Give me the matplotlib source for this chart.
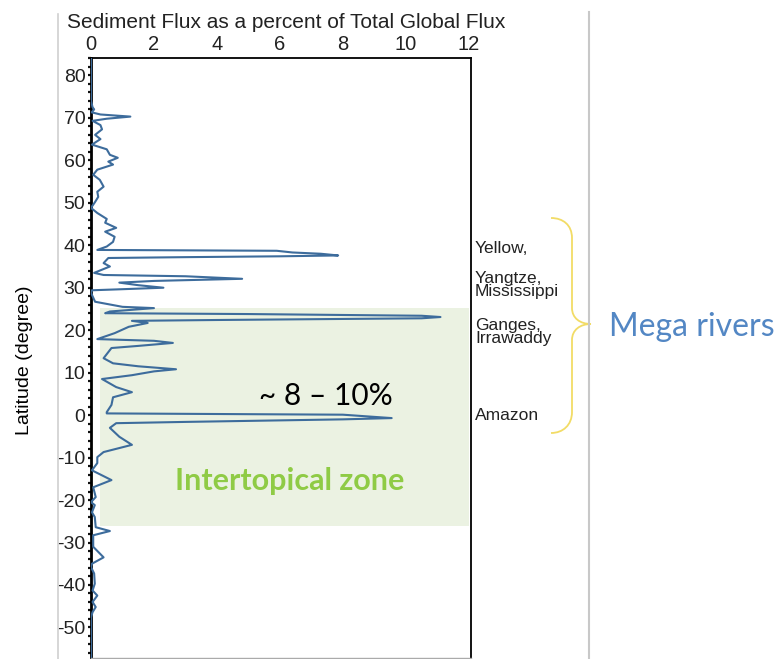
import matplotlib
matplotlib.use("Agg")
import matplotlib.pyplot as plt
from matplotlib.path import Path
from matplotlib.patches import PathPatch, Rectangle
from matplotlib.lines import Line2D
from matplotlib.ticker import MultipleLocator

# ---------------- data ----------------
latitude = [84.0, 74.0, 72.5, 72.0, 71.3, 70.8, 70.3, 69.8, 69.3, 68.3, 67.3, 66.0,
            65.0, 63.7, 62.6, 61.3, 60.6, 59.7, 59.0, 57.8, 56.6, 55.4, 53.8, 52.6,
            51.4, 50.2, 48.8, 47.6, 46.2, 45.3, 44.1, 43.2, 42.0, 40.8, 39.7, 38.9,
            38.7, 38.3, 38.0, 37.6, 37.4, 37.2, 37.0, 35.8, 35.0, 33.5, 33.0, 32.7,
            32.1, 31.6, 31.2, 30.6, 30.0, 29.6, 29.4, 28.8, 26.7, 25.5, 25.2, 24.4,
            24.0, 23.8, 23.4, 23.1, 22.8, 22.4, 22.2, 21.7, 20.8, 19.3, 17.9, 17.5,
            17.0, 16.3, 15.8, 13.4, 12.2, 11.5, 10.8, 10.3, 9.4, 8.5, 6.6, 5.4, 4.2,
            2.4, 0.7, 0.4, 0.3, 0.1, -0.7, -1.0, -1.6, -1.9, -3.0, -5.1, -7.0, -8.7,
            -9.9, -11.3, -13.0, -15.3, -17.0, -19.3, -20.5, -21.2, -22.9, -24.0,
            -26.4, -27.3, -28.3, -31.0, -33.5, -35.0, -35.8, -37.3, -39.7, -41.3,
            -42.5, -44.0, -45.2, -46.4, -47.6, -57.5]
flux = [0.0, 0.0, 0.05, 0.1, 0.02, 0.3, 1.25, 0.5, 0.05, 0.3, 0.35, 0.13,
        0.3, 0.03, 0.5, 0.6, 0.85, 0.55, 0.7, 0.2, 0.07, 0.28, 0.4, 0.2,
        0.23, 0.13, 0.0, 0.2, 0.5, 0.45, 0.8, 0.45, 0.75, 0.7, 0.5, 0.2,
        5.9, 6.4, 7.3, 7.85, 6.0, 3.0, 0.55, 0.4, 0.6, 0.1, 0.4, 3.0,
        4.8, 2.0, 0.9, 1.5, 2.3, 0.8, 0.03, 0.0, 0.13, 1.0, 2.0, 0.6,
        0.45, 5.0, 10.5, 11.1, 10.5, 4.0, 1.3, 1.8, 1.2, 0.75, 0.2, 2.0,
        2.6, 1.5, 0.65, 0.4, 0.7, 1.5, 2.7, 2.0, 1.3, 0.35, 0.8, 1.3, 0.7,
        0.65, 0.5, 0.5, 3.0, 8.0, 9.55, 8.0, 3.0, 0.8, 0.6, 0.9, 1.3, 0.4,
        0.2, 0.2, 0.03, 0.65, 0.07, 0.15, 0.0, 0.12, 0.03, 0.12,
        0.15, 0.6, 0.07, 0.07, 0.4, 0.03, 0.0, 0.1, 0.12, 0.05,
        0.2, 0.05, 0.15, 0.05, 0.0, 0.0]

x_ticks = [0, 2, 4, 6, 8, 10, 12]
y_ticks = [80, 70, 60, 50, 40, 30, 20, 10, 0, -10, -20, -30, -40, -50]
zone_lat = [-26.0, 25.2]          # intertropical band
rivers = ["Yellow,", "Yangtze,\nMississippi", "Ganges,\nIrrawaddy", "Amazon"]
river_lat = [39.2, 30.7, 19.6, 0.0]

# ---------------- figure ----------------
W, H = 776, 659
fig = plt.figure(figsize=(W / 100, H / 100), dpi=100)
plt.rcParams['axes.unicode_minus'] = False


def fx(x):
    return x / W


def fy(y):
    return 1 - y / H


ax = fig.add_axes([fx(91), fy(658), fx(471) - fx(91), fy(58) - fy(658)])
ax.set_xlim(0, 12.07)
ax.set_ylim(-57.2, 84.1)

# intertropical shade
ax.add_patch(Rectangle((0.3, zone_lat[0]), 11.7, zone_lat[1] - zone_lat[0],
                       facecolor="#ebf2e2", edgecolor="none", zorder=0))

ax.plot(flux, latitude, color="#3d6c9c", lw=1.5, zorder=3, solid_joinstyle="round")

ax.xaxis.tick_top()
ax.set_xticks(x_ticks)
ax.set_xticklabels([str(v) for v in x_ticks], fontsize=14.5, family="Liberation Sans",
                   color="#222222")
ax.tick_params(axis="x", length=0, pad=3)
ax.set_yticks(y_ticks)
ax.set_yticklabels([str(v) for v in y_ticks], fontsize=14, family="Liberation Sans",
                   color="#222222")
ax.yaxis.set_minor_locator(MultipleLocator(2))
ax.tick_params(axis="y", which="both", direction="out", length=2.5, width=1.6,
               pad=1.5, color="#111111")

for side in ["top", "right"]:
    ax.spines[side].set_linewidth(1.3)
ax.spines["left"].set_linewidth(2.0)
ax.spines["bottom"].set_color("#aaaaaa")
ax.spines["bottom"].set_linewidth(1.0)

# annotations inside
ax.text(7.45, 4.5, "~ 8 – 10%", fontsize=21.5, family="Lato", ha="center", va="center",
        color="black", zorder=4)
ax.text(6.3, -15.5, "Intertopical zone", fontsize=22, family="Lato", fontweight="bold",
        ha="center", va="center", color="#8fcb45", zorder=4)

# title
fig.text(fx(286), fy(22), "Sediment Flux as a percent of Total Global Flux",
         fontsize=15, family="Liberation Sans", ha="center", va="center", color="#222222")

# y label
fig.text(fx(25), fy(360), "Latitude (degree)", fontsize=14, family="Liberation Sans",
         rotation=90, ha="center", va="center", color="black")

# river labels
for name, lat in zip(rivers, river_lat):
    ax.text(12.2, lat, name, fontsize=12.5, family="Liberation Sans", ha="left",
            va="center", linespacing=0.8, color="#222222", clip_on=False)

# brace
verts = [(551, 218), (563, 218), (572, 225), (572, 238),
         (572, 308),
         (572, 318), (580, 324), (591, 324),
         (580, 324), (572, 330), (572, 340),
         (572, 412),
         (572, 425), (563, 433), (551, 433)]
codes = [Path.MOVETO, Path.CURVE4, Path.CURVE4, Path.CURVE4,
         Path.LINETO,
         Path.CURVE4, Path.CURVE4, Path.CURVE4,
         Path.CURVE4, Path.CURVE4, Path.CURVE4,
         Path.LINETO,
         Path.CURVE4, Path.CURVE4, Path.CURVE4]
brace = PathPatch(Path([(fx(a), fy(b)) for a, b in verts], codes),
                  transform=fig.transFigure, facecolor="none",
                  edgecolor="#f2dc66", lw=1.3)
fig.patches.append(brace)

fig.text(fx(609), fy(327), "Mega rivers", fontsize=23, family="Lato",
         ha="left", va="center", color="#5387c4")

# frame lines of the pasted figure
fig.add_artist(Line2D([fx(58), fx(58)], [fy(14), fy(659)], transform=fig.transFigure,
                      color="#d0d0d0", lw=1.2))
fig.add_artist(Line2D([fx(589), fx(589)], [fy(12), fy(659)], transform=fig.transFigure,
                      color="#c8c8c8", lw=1.5))

fig.savefig("out.png", dpi=100)
